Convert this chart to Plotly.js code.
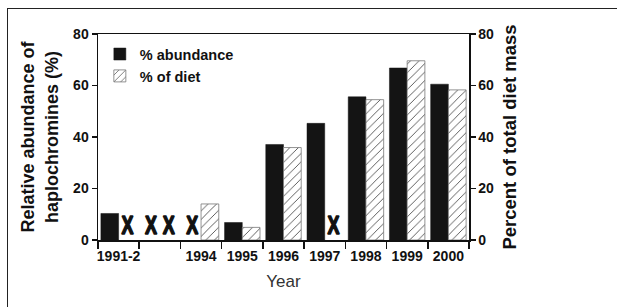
<!DOCTYPE html>
<html>
<head>
<meta charset="utf-8">
<script src="https://cdn.plot.ly/plotly-3.0.1.min.js"></script>
<style>
  html, body { margin: 0; padding: 0; background: #fff; }
  #wrap { position: relative; width: 617px; height: 307px; overflow: hidden; }
  #frame { position: absolute; left: 7px; top: 8px; width: 700px; height: 400px;
           border-left: 1.5px solid #222; border-top: 1.5px solid #222; pointer-events: none; }
  #chart { position: absolute; left: 0; top: 0; width: 617px; height: 307px; }
</style>
</head>
<body>
<div id="wrap">
  <div id="chart"></div>
  <div id="frame"></div>
</div>
<script>
// Data
var categories = ['1991-2', '1993', '1994', '1995', '1996', '1997', '1998', '1999', '2000'];
var tickLabels = ['1991-2', '', '1994', '1995', '1996', '1997', '1998', '1999', '2000'];
var abundance = [10.3, null, null, 6.8, 37.1, 45.3, 55.6, 66.8, 60.5];
var diet      = [null, null, 14.0, 4.9, 35.9, null, 54.5, 69.6, 58.3];
var yTicks = [0, 20, 40, 60, 80];

var FONT = '"Liberation Sans", Arial, Helvetica, sans-serif';

function missing(vals) {
  var x = [], y = [], t = [];
  vals.forEach(function (v, i) {
    if (v === null) { x.push(categories[i]); y.push(0); t.push('X'); }
  });
  return {x: x, y: y, t: t};
}
var mA = missing(abundance), mD = missing(diet);

var xFont = {family: FONT, size: 25, color: '#111', weight: 'bold'};

var traces = [
  {
    type: 'bar', name: '% abundance', x: categories, y: abundance,
    offsetgroup: 'a', alignmentgroup: 'g',
    marker: {color: '#141414', line: {color: '#141414', width: 0.5}},
    hoverinfo: 'skip'
  },
  {
    type: 'bar', name: '% of diet', x: categories, y: diet, yaxis: 'y2',
    offsetgroup: 'd', alignmentgroup: 'g',
    marker: {color: '#ffffff', line: {color: '#777', width: 0.8},
             pattern: {shape: '/', fgcolor: '#222', bgcolor: '#ffffff', size: 6, solidity: 0.12}},
    hoverinfo: 'skip'
  },
  {
    type: 'scatter', mode: 'text', x: mA.x, y: mA.y, text: mA.t,
    offsetgroup: 'a', alignmentgroup: 's',
    textposition: 'top center', showlegend: false, cliponaxis: false,
    marker: {size: 0}, textfont: xFont, hoverinfo: 'skip'
  },
  {
    type: 'scatter', mode: 'text', x: mD.x, y: mD.y, text: mD.t,
    offsetgroup: 'd', alignmentgroup: 's',
    textposition: 'top center', showlegend: false, cliponaxis: false,
    marker: {size: 0}, textfont: xFont, hoverinfo: 'skip'
  }
];

var tickFont = {family: FONT, size: 14, color: '#111', weight: 'bold'};

var layout = {
  width: 617, height: 307,
  margin: {l: 98, r: 148, t: 34, b: 67, pad: 0},
  paper_bgcolor: '#fff', plot_bgcolor: '#fff',
  barmode: 'group', bargap: 0.14, bargroupgap: 0,
  scattermode: 'group', scattergap: 0.14,
  showlegend: true,
  legend: {x: 0.005, y: 0.98, xanchor: 'left', yanchor: 'top',
           bgcolor: 'rgba(0,0,0,0)', borderwidth: 0, tracegroupgap: 0,
           font: {family: FONT, size: 14.5, color: '#111', weight: 'bold'}},
  xaxis: {
    type: 'category', categoryorder: 'array', categoryarray: categories,
    tickmode: 'array', tickvals: categories, ticktext: tickLabels, tickangle: 0,
    tickson: 'boundaries', ticks: 'outside', ticklen: 7, tickwidth: 1.5, tickcolor: '#111',
    ticklabelstandoff: 3,
    showline: true, linecolor: '#111', linewidth: 1.5, mirror: true,
    showgrid: false, zeroline: false,
    tickfont: tickFont,
    title: {text: 'Year', font: {family: FONT, size: 17, color: '#333'}, standoff: 12},
    automargin: false
  },
  yaxis: {
    range: [0, 80], tickmode: 'array', tickvals: yTicks,
    ticks: 'outside', ticklen: 5, tickwidth: 1.5, tickcolor: '#111',
    showline: true, linecolor: '#111', linewidth: 1.5,
    showgrid: false, zeroline: false,
    tickfont: tickFont,
    title: {text: 'Relative abundance of<br>haplochromines (%)',
            font: {family: FONT, size: 18, color: '#111', weight: 'bold'}, standoff: 10},
    automargin: false
  },
  yaxis2: {
    overlaying: 'y', side: 'right', range: [0, 80],
    tickmode: 'array', tickvals: yTicks,
    ticks: 'outside', ticklen: 5, tickwidth: 1.5, tickcolor: '#111',
    showline: true, linecolor: '#111', linewidth: 1.5,
    showgrid: false, zeroline: false,
    tickfont: tickFont,
    title: {text: 'Percent of total diet mass',
            font: {family: FONT, size: 18.5, color: '#111', weight: 'bold'}, standoff: 10},
    automargin: false
  }
};

Plotly.newPlot('chart', traces, layout, {staticPlot: true, displayModeBar: false}).then(function (gd) {
  // The "X" glyphs of the original are narrow, tall and heavy
  gd.querySelectorAll('.textpoint text').forEach(function (t) {
    t.style.transformBox = 'fill-box';
    t.style.transformOrigin = '50% 100%';
    t.style.transform = 'scale(0.72, 1.02)';
    t.style.stroke = '#111';
    t.style.strokeWidth = '1.6px';
  });
});
</script>
</body>
</html>
